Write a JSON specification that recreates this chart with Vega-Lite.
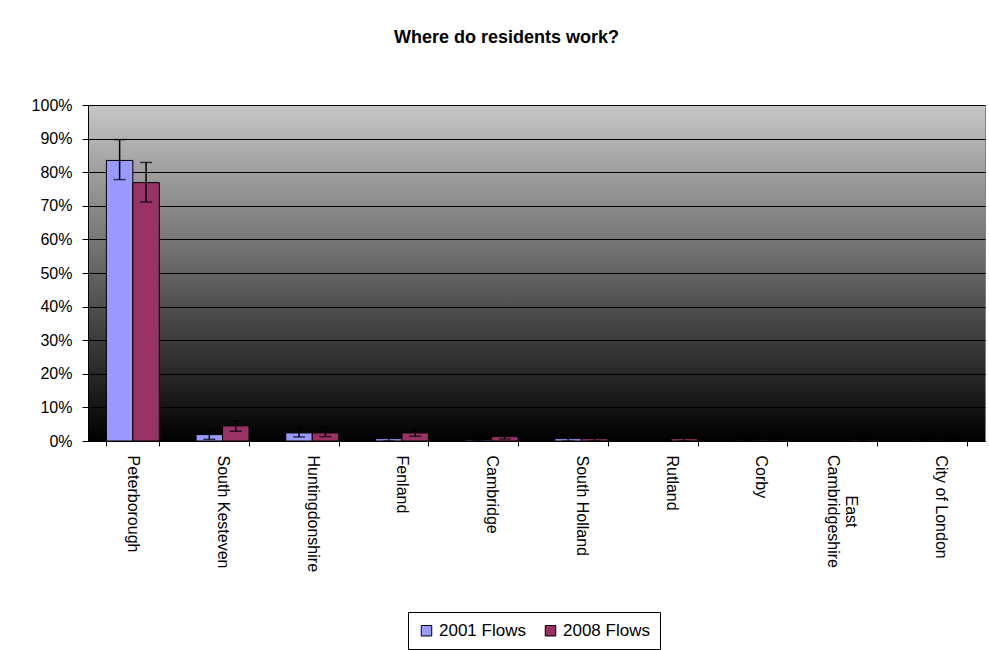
{
  "$schema": "https://vega.github.io/schema/vega-lite/v6.json",
  "width": 897,
  "height": 336,
  "autosize": {"type": "none"},
  "padding": {"left": 88, "top": 105, "right": 4, "bottom": 209},
  "background": "white",
  "title": {
    "text": "Where do residents work?",
    "font": "Liberation Sans",
    "fontSize": 18,
    "fontWeight": "bold",
    "color": "black",
    "anchor": "middle",
    "frame": "group",
    "dx": -30,
    "baseline": "alphabetic",
    "offset": 36
  },
  "view": {
    "stroke": "#808080",
    "strokeWidth": 1,
    "fill": {
      "gradient": "linear",
      "x1": 0, "y1": 0, "x2": 0, "y2": 1,
      "stops": [
        {"offset": 0, "color": "#c6c6c6"},
        {"offset": 1, "color": "#000000"}
      ]
    }
  },
  "data": {
    "values": [
      {"place": "Peterborough", "series": "2001 Flows", "value": 0.835, "lo": 0.778, "hi": 0.897},
      {"place": "Peterborough", "series": "2008 Flows", "value": 0.769, "lo": 0.711, "hi": 0.829},
      {"place": "South Kesteven", "series": "2001 Flows", "value": 0.019, "lo": 0.005, "hi": 0.034},
      {"place": "South Kesteven", "series": "2008 Flows", "value": 0.045, "lo": 0.029, "hi": 0.060},
      {"place": "Huntingdonshire", "series": "2001 Flows", "value": 0.024, "lo": 0.012, "hi": 0.040},
      {"place": "Huntingdonshire", "series": "2008 Flows", "value": 0.024, "lo": 0.013, "hi": 0.041},
      {"place": "Fenland", "series": "2001 Flows", "value": 0.007, "lo": 0.0, "hi": 0.020},
      {"place": "Fenland", "series": "2008 Flows", "value": 0.024, "lo": 0.014, "hi": 0.035},
      {"place": "Cambridge", "series": "2001 Flows", "value": 0.003, "lo": 0.0, "hi": 0.014},
      {"place": "Cambridge", "series": "2008 Flows", "value": 0.013, "lo": 0.006, "hi": 0.020},
      {"place": "South Holland", "series": "2001 Flows", "value": 0.007, "lo": 0.0, "hi": 0.015},
      {"place": "South Holland", "series": "2008 Flows", "value": 0.007, "lo": 0.0, "hi": 0.017},
      {"place": "Rutland", "series": "2001 Flows", "value": 0.0, "lo": 0.0, "hi": 0.0},
      {"place": "Rutland", "series": "2008 Flows", "value": 0.007, "lo": 0.0, "hi": 0.016},
      {"place": "Corby", "series": "2001 Flows", "value": 0.002, "lo": 0.0, "hi": 0.011},
      {"place": "Corby", "series": "2008 Flows", "value": 0.003, "lo": 0.0, "hi": 0.017},
      {"place": "East Cambridgeshire", "series": "2001 Flows", "value": 0.0, "lo": 0.0, "hi": 0.0},
      {"place": "East Cambridgeshire", "series": "2008 Flows", "value": 0.003, "lo": 0.0, "hi": 0.012},
      {"place": "City of London", "series": "2001 Flows", "value": 0.002, "lo": 0.0, "hi": 0.009},
      {"place": "City of London", "series": "2008 Flows", "value": 0.002, "lo": 0.0, "hi": 0.011}
    ]
  },
  "encoding": {
    "x": {
      "field": "place",
      "type": "nominal",
      "sort": null,
      "scale": {"paddingInner": 0.41, "paddingOuter": 0.205},
      "axis": {
        "title": null,
        "labelAngle": 90,
        "labelAlign": {"condition": {"test": "datum.value == 'East Cambridgeshire'", "value": "center"}, "value": "left"},
        "labelBaseline": "middle",
        "labelPadding": {"condition": {"test": "datum.value == 'East Cambridgeshire'", "value": 65}, "value": 9},
        "labelFont": "Liberation Sans",
        "labelFontSize": 16,
        "labelColor": "black",
        "labelLimit": 0,
        "labelLineHeight": 18,
        "labelOverlap": false,
        "tickBand": "extent",
        "tickSize": 5,
        "tickColor": "black",
        "domainColor": "black",
        "grid": false,
        "labelExpr": "datum.label == 'East Cambridgeshire' ? ['East', 'Cambridgeshire'] : datum.label"
      }
    },
    "xOffset": {
      "field": "series",
      "type": "nominal",
      "scale": {"paddingInner": 0, "paddingOuter": 0}
    },
    "y": {
      "field": "value",
      "type": "quantitative",
      "scale": {"domain": [0, 1], "nice": false},
      "axis": {
        "title": null,
        "tickCount": 10,
        "tickMinStep": 0.1,
        "labelOverlap": false,
        "labelFlush": false,
        "format": ".0%",
        "grid": true,
        "gridColor": "black",
        "gridWidth": 1,
        "gridOpacity": 1,
        "domainColor": "black",
        "tickColor": "black",
        "tickSize": 6,
        "labelPadding": 10,
        "labelFont": "Liberation Sans",
        "labelFontSize": 16,
        "labelColor": "black"
      }
    }
  },
  "layer": [
    {
      "mark": {"type": "bar", "stroke": "black", "strokeWidth": 1},
      "encoding": {
        "color": {
          "field": "series",
          "type": "nominal",
          "scale": {"range": ["#9999FF", "#993366"]},
          "legend": {
            "title": null,
            "orient": "none",
            "legendX": 320,
            "legendY": 507,
            "direction": "horizontal",
            "strokeColor": "black",
            "fillColor": "white",
            "padding": 10,
            "symbolType": "square",
            "symbolSize": 110,
            "symbolStrokeColor": "black",
            "symbolStrokeWidth": 1,
            "symbolOpacity": 1,
            "labelFont": "Liberation Sans",
            "labelFontSize": 17,
            "labelColor": "black",
            "columnPadding": 16
          }
        }
      }
    },
    {
      "mark": {"type": "rule", "color": "black", "strokeWidth": 1.5},
      "encoding": {
        "y": {"field": "lo", "type": "quantitative"},
        "y2": {"field": "hi"}
      }
    },
    {
      "mark": {"type": "tick", "color": "black", "orient": "horizontal", "size": 12, "thickness": 1.5},
      "encoding": {"y": {"field": "lo", "type": "quantitative"}}
    },
    {
      "mark": {"type": "tick", "color": "black", "orient": "horizontal", "size": 12, "thickness": 1.5},
      "encoding": {"y": {"field": "hi", "type": "quantitative"}}
    }
  ]
}
